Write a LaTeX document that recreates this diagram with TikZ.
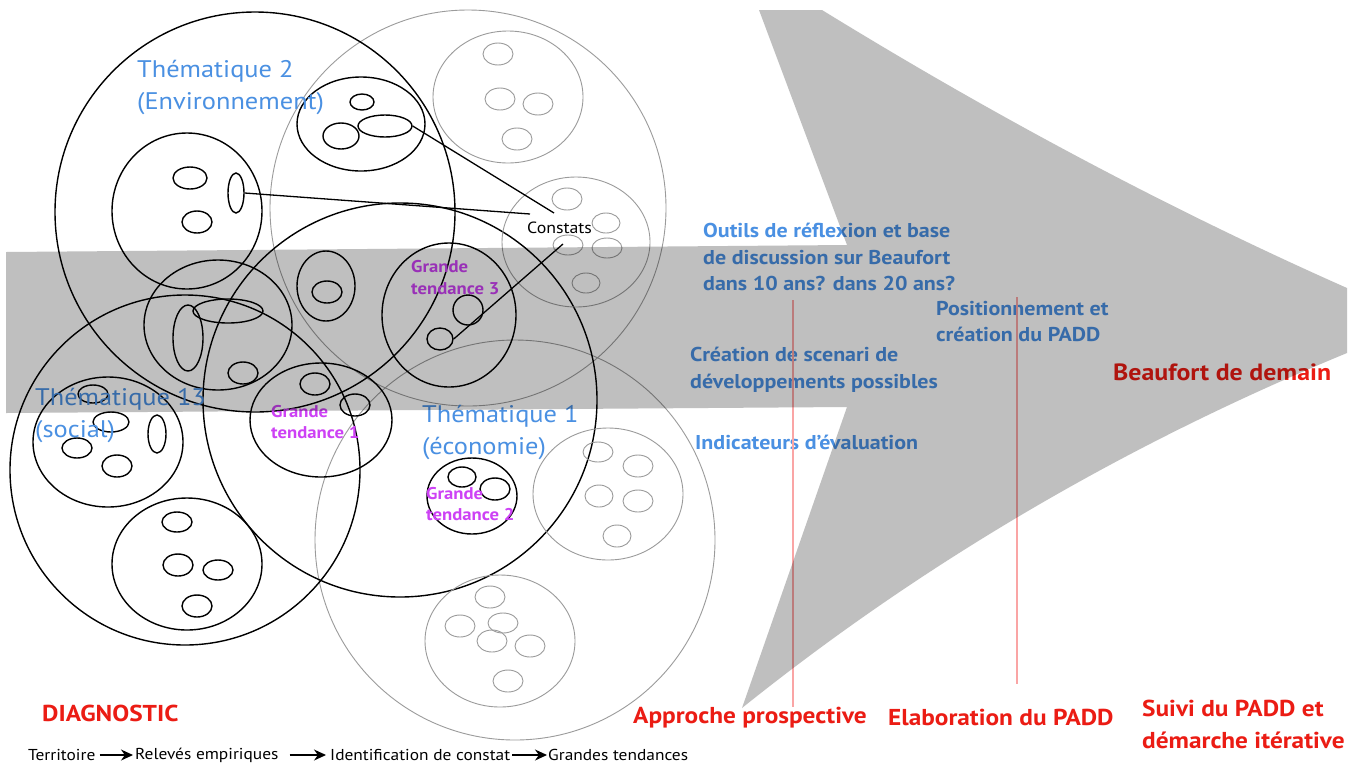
\documentclass[tikz,border=0pt]{standalone}
\usepackage{fontspec}
\setmainfont{PT Sans}[FakeStretch=1.1]
\usetikzlibrary{arrows.meta,shapes.geometric}
\definecolor{tblue}{RGB}{74,144,226}
\definecolor{tmag}{RGB}{205,65,245}
\definecolor{tred}{RGB}{235,28,20}
\definecolor{tpink}{RGB}{250,165,165}
\definecolor{lgray}{RGB}{155,155,155}
\definecolor{bandgray}{RGB}{191,191,191}
\newcommand{\Ell}[5]{\draw[#1] (#2,#3) ellipse [x radius=#4pt, y radius=#5pt];}
\begin{document}
\begin{tikzpicture}[x=1pt,y=-1pt,
 blk/.style={draw=black,line width=1.4pt},
 gry/.style={draw=lgray,line width=0.9pt},
 lbl/.style={inner sep=0pt,anchor=west,align=left},
 them/.style={lbl,text=tblue,font=\fontsize{24}{32}\selectfont},
 info/.style={lbl,text=tblue,font=\bfseries\fontsize{20}{26.5}\selectfont},
 gt/.style={lbl,text=tmag,font=\bfseries\fontsize{17}{21.5}\selectfont},
 redl/.style={lbl,text=tred,font=\bfseries\fontsize{23}{32}\selectfont},
 flow/.style={lbl,text=black,font=\fontsize{15.8}{18}\selectfont},
 flowarr/.style={line width=1.2pt,-{Stealth[length=12pt,width=11pt]}},
 pinkline/.style={draw=tpink,line width=1.5pt},
 srcell/.style={ellipse,draw=black,line width=1.4pt,inner sep=0pt},
 conn/.style={draw=black,line width=1.3pt}
]
\useasboundingbox (0,0) rectangle (1359,764);
\fill[white] (0,0) rectangle (1359,764);

% ---- big circles ----
\Ell{gry}{468}{208}{198}{198}
\Ell{gry}{515}{540}{200}{200}
\Ell{blk}{255}{212}{200}{200}
\Ell{blk}{185}{470}{175}{175}
\Ell{blk}{400}{400}{197}{197}

% ---- gray medium circles ----
\Ell{gry}{508}{97}{75}{66}
\Ell{gry}{498}{54}{15}{11}
\Ell{gry}{500}{99}{15}{11}
\Ell{gry}{538}{104}{15}{11}
\Ell{gry}{517}{139}{15}{11}

\Ell{gry}{576}{242}{74}{65}
\Ell{gry}{567}{199}{15}{11}
\Ell{gry}{606}{223}{14}{10}
\Ell{gry}{568}{245}{15}{10}
\Ell{gry}{607}{248}{15}{10}
\Ell{gry}{586}{283}{14}{10}

\Ell{gry}{608}{494}{75}{66}
\Ell{gry}{598}{452}{15}{10}
\Ell{gry}{638}{466}{15}{11}
\Ell{gry}{599}{496}{14}{11}
\Ell{gry}{638}{501}{15}{11}
\Ell{gry}{617}{536}{14}{11}

\Ell{gry}{500}{641}{75}{66}
\Ell{gry}{490}{597}{15}{11}
\Ell{gry}{460}{626}{15}{11}
\Ell{gry}{503}{623}{15}{10}
\Ell{gry}{492}{641}{15}{11}
\Ell{gry}{530}{646}{15}{11}
\Ell{gry}{508}{681}{15}{11}

% ---- black medium circles ----
\Ell{blk}{187}{211}{75}{78}
\Ell{blk}{190}{178}{17}{11}
\Ell{blk}{197}{222}{15}{11}
\node[srcell,minimum width=16pt,minimum height=40pt] (ev) at (236,193) {};

\Ell{blk}{361}{124}{64}{47}
\Ell{blk}{362}{102}{12}{8}
\Ell{blk}{341}{136}{18}{13}
\node[srcell,minimum width=54pt,minimum height=22pt] (eh) at (385,126) {};

\Ell{blk}{218}{325}{74}{65}
\Ell{blk}{188}{338}{15}{33}
\Ell{blk}{228}{311}{35}{12}
\Ell{blk}{243}{373}{15}{11}

\Ell{blk}{326}{286}{29}{35}
\Ell{blk}{327}{292}{15}{11}

\Ell{blk}{449}{315}{67}{72}
\Ell{blk}{468}{310}{15}{15}
\node[srcell,minimum width=26pt,minimum height=22pt] (es) at (440,339) {};

\Ell{blk}{321}{420}{71}{57}
\Ell{blk}{315}{384}{15}{11}
\Ell{blk}{355}{405}{15}{11}

\Ell{blk}{108}{442}{75}{65}
\Ell{blk}{93}{394}{15}{9}
\Ell{blk}{111}{422}{18}{10}
\Ell{blk}{77}{448}{15}{10}
\Ell{blk}{117}{466}{15}{11}
\Ell{blk}{157}{434}{9}{19}

\Ell{blk}{187}{564}{75}{66}
\Ell{blk}{177}{522}{15}{10}
\Ell{blk}{178}{565}{15}{11}
\Ell{blk}{218}{570}{15}{10}
\Ell{blk}{197}{606}{15}{11}

\Ell{blk}{472}{496}{45}{38}
\Ell{blk}{462}{477}{14}{10}
\Ell{blk}{495}{489}{15}{11}

% ---- Constats and connectors ----
\node[lbl,font=\fontsize{16.2}{18}\selectfont] (constats) at (527,228) {Constats};
\coordinate (c1) at (554,213);
\coordinate (c2) at (530,214);
\coordinate (c3) at (563,244);
\draw[conn] (eh.east) -- (c1);
\draw[conn] (ev.east) -- (c2);
\draw[conn] (es.east) -- (c3);

% ---- labels ----
\node[them] (t2) at (137,87.5) {Thématique 2\\(Environnement)};
\node[them] (t13) at (35,415) {Thématique 13\\(social)};
\node[them] (t1) at (422,432.5) {Thématique 1\\(économie)};

\node[gt] (gt3) at (411,277.5) {Grande\\tendance 3};
\node[gt] (gt1) at (271,422) {Grande\\tendance 1};
\node[gt] (gt2) at (426,504) {Grande\\tendance 2};

\node[info] (outils) at (703,257) {Outils de réflexion et base\\de discussion sur Beaufort\\dans 10 ans? dans 20 ans?};
\node[info] (posit) at (936,321.5) {Positionnement et\\création du PADD};
\node[info] (scen) at (690,370) {Création de scenari de\\développements possibles};
\node[info] (indic) at (695,442) {Indicateurs d'évaluation};

\node[redl,font=\bfseries\fontsize{23.5}{30}\selectfont] (demain) at (1113,372) {Beaufort de demain};

% ---- pink lines ----
\coordinate (p1a) at (793,300);
\coordinate (p1b) at (793,707);
\coordinate (p2a) at (1017,297);
\coordinate (p2b) at (1017,684);
\draw[pinkline] (p1a) -- (p1b);
\draw[pinkline] (p2a) -- (p2b);

% ---- gray arrow (multiply) ----
\begin{scope}[blend mode=multiply]
\fill[bandgray] (6,252) -- (847,245) -- (759,10) -- (822,10)
  .. controls (996,117) and (1171,210) .. (1347,288) -- (1347,353)
  .. controls (1126,444) and (924,562) .. (742,708) -- (847,407) -- (6,413) -- cycle;
\end{scope}

% ---- bottom labels ----
\node[redl] (diag) at (42,713) {DIAGNOSTIC};
\node[redl] (appro) at (633,718) {Approche prospective};
\node[redl] (elab) at (888,717) {Elaboration du PADD};
\node[redl] (suivi) at (1142,724) {Suivi du PADD et\\démarche itérative};

\node[flow] (f1) at (28,755) {Territoire};
\node[flow] (f2) at (135,755) {Relevés empiriques};
\node[flow] (f3) at (330,755) {Identification de constat};
\node[flow] (f4) at (548,755) {Grandes tendances};
\draw[flowarr] ([xshift=4pt]f1.east) -- ([xshift=-2pt]f2.west);
\draw[flowarr] ([xshift=11pt]f2.east) -- ([xshift=-4pt]f3.west);
\draw[flowarr] ([xshift=2pt]f3.east) -- ([xshift=-1pt]f4.west);
\end{tikzpicture}
\end{document}
